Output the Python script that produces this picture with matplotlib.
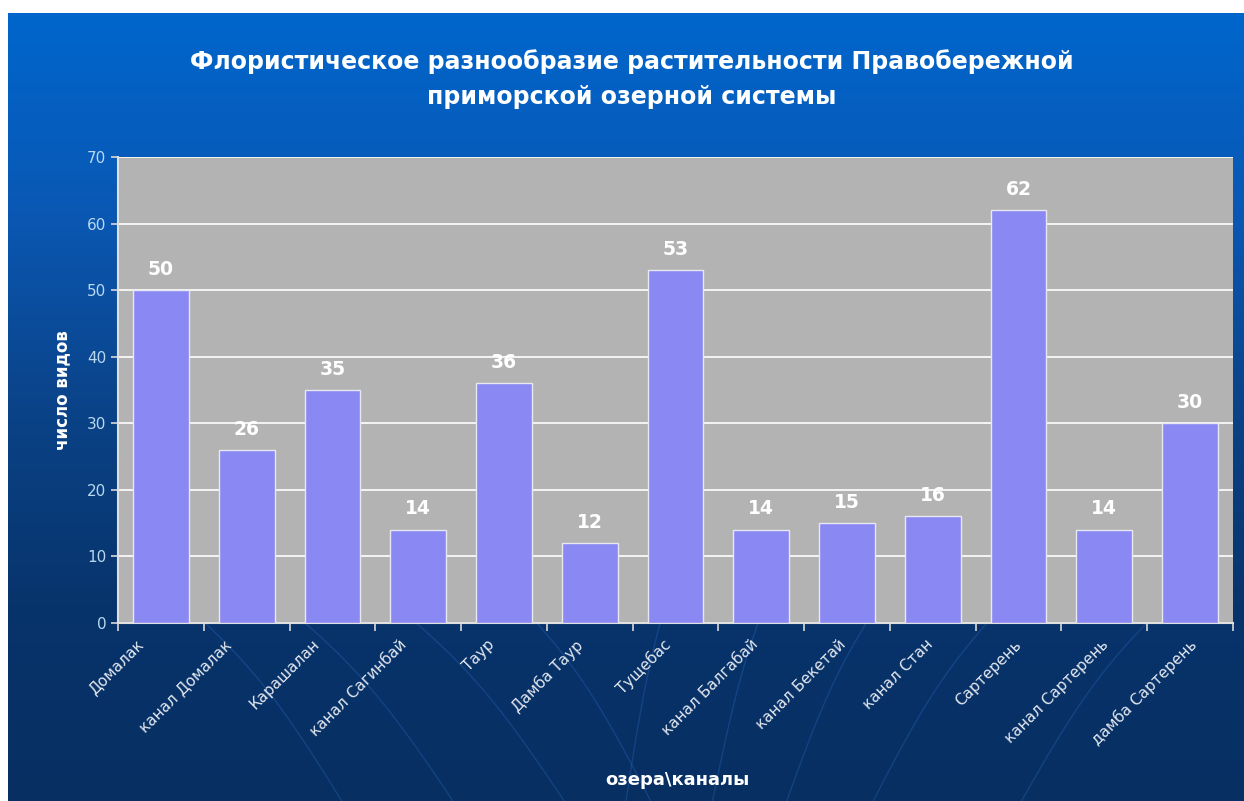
import numpy as np
import matplotlib
matplotlib.use("Agg")
import matplotlib.pyplot as plt
from matplotlib.colors import LinearSegmentedColormap

plt.rcParams['font.family'] = ['DejaVu Sans']

names = ["Домалак", "канал Домалак", "Карашалан", "канал Сагинбай", "Таур",
         "Дамба Таур", "Тущебас", "канал Балгабай", "канал Бекетай",
         "канал Стан", "Сартерень", "канал Сартерень", "дамба Сартерень"]
counts = [50, 26, 35, 14, 36, 12, 53, 14, 15, 16, 62, 14, 30]
yticks = [0, 10, 20, 30, 40, 50, 60, 70]

W, H = 1244, 801
fig = plt.figure(figsize=(W / 100, H / 100), dpi=100)
fig.patch.set_facecolor("white")

# blue gradient background, white strip on top and left
bg = fig.add_axes([8 / W, 0, 1 - 8 / W, 1 - 13 / H])
bg.set_axis_off()
cmap = LinearSegmentedColormap.from_list(
    "bg", ["#0066cc", "#0a58b4", "#0a4388", "#08346c", "#072f62"])
grad = np.linspace(0, 1, 256).reshape(-1, 1)
bg.imshow(grad, aspect="auto", cmap=cmap, extent=[0, 1, 0, 1], origin="upper")
# faint decorative curves (globe meridians)
t = np.linspace(0, 1, 60)
for xa, xb in [(0.15, 0.27), (0.23, 0.36), (0.32, 0.45), (0.42, 0.52),
               (0.53, 0.50), (0.61, 0.57), (0.70, 0.63), (0.80, 0.70), (0.93, 0.82)]:
    xs = xa + (xb - xa) * t
    ys = 0.24 - 0.24 * t + 0.02 * np.sin(np.pi * t)
    bg.plot(xs, ys, color="#2f6fc8", lw=1, alpha=0.3)
bg.set_xlim(0, 1)
bg.set_ylim(0, 1)

ax = fig.add_axes([118 / W, 1 - 623 / H, (1233 - 118) / W, (623 - 157) / H])
ax.set_facecolor("#b3b3b3")
x = np.arange(len(names))
ax.bar(x, counts, width=0.65, color="#8a88f3", edgecolor="#e8e8f0", linewidth=1, zorder=3)
for xi, c in zip(x, counts):
    ax.text(xi, c + 1.7, str(c), ha="center", va="bottom", color="white",
            fontsize=13.5, fontweight="bold", zorder=4)

ax.set_xlim(-0.5, len(names) - 0.5)
ax.set_ylim(0, 70)
ax.set_yticks(yticks)
ax.yaxis.grid(True, color="white", lw=1.2, zorder=1)
ax.set_axisbelow(True)
ax.tick_params(axis="y", colors="#d8d8d8", labelsize=11, length=5, width=1.2,
               direction="out", labelcolor="#b8d8f0")
ax.set_xticks(x)
ax.set_xticklabels([])
ax.set_xticks(np.arange(len(names) + 1) - 0.5, minor=True)
ax.tick_params(axis="x", which="major", length=0)
ax.tick_params(axis="x", which="minor", length=6, width=1.2, color="#d8d8d8")
for xi, name in zip(x, names):
    dx = (-25 + 2 * xi) * 0.72
    ax.annotate(name, xy=(xi, 0), xycoords=("data", "axes fraction"),
                xytext=(dx, -10), textcoords="offset points",
                rotation=45, ha="right", va="top", rotation_mode="anchor",
                fontsize=11, color="#e4e8f0", annotation_clip=False)
for s in ["top", "right"]:
    ax.spines[s].set_visible(False)
for s in ["left", "bottom"]:
    ax.spines[s].set_color("#e0e0e0")
    ax.spines[s].set_linewidth(1.5)

fig.text(0.508, 1 - 62 / H, "Флористическое разнообразие растительности Правобережной",
         ha="center", va="center", color="white", fontsize=17, fontweight="bold")
fig.text(0.508, 1 - 97 / H, "приморской озерной системы",
         ha="center", va="center", color="white", fontsize=17, fontweight="bold")
fig.text(62 / W, 1 - 390 / H, "число видов", rotation=90, ha="center", va="center",
         color="white", fontsize=12, fontweight="bold")
fig.text(677 / W, 1 - 780 / H, "озера\\каналы", ha="center", va="center",
         color="white", fontsize=13, fontweight="bold")

fig.savefig("out.png", dpi=100, facecolor=fig.get_facecolor())
